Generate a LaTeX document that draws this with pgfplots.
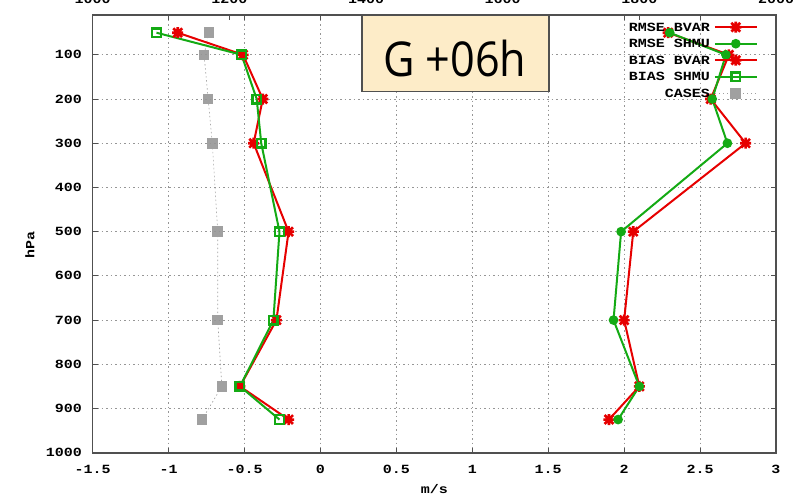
\documentclass[border=0pt]{standalone}
\usepackage{fontspec}
\usepackage{pgfplots}
\usepackage{pgfplotstable}
\pgfplotsset{compat=1.18}

\newfontfamily\gfont{Liberation Mono}[FakeStretch=1.2]
\newfontfamily\tfont{Open Sans}[FakeStretch=0.9]
\newcommand\gpfont{\gfont\bfseries\fontsize{12.5}{14}\selectfont}

\definecolor{gpred}{RGB}{230,0,0}
\definecolor{gpgreen}{RGB}{20,170,20}
\definecolor{gpgray}{RGB}{160,160,160}
\definecolor{gpframe}{RGB}{80,80,80}
\definecolor{gpgrid}{RGB}{150,150,150}
\definecolor{boxfill}{RGB}{253,236,200}

% gnuplot point type 3: a plus and a cross laid over each other
\pgfdeclareplotmark{gpstar}{%
  \pgfpathmoveto{\pgfqpoint{-\pgfplotmarksize}{0pt}}%
  \pgfpathlineto{\pgfqpoint{\pgfplotmarksize}{0pt}}%
  \pgfpathmoveto{\pgfqpoint{0pt}{-\pgfplotmarksize}}%
  \pgfpathlineto{\pgfqpoint{0pt}{\pgfplotmarksize}}%
  \pgfpathmoveto{\pgfqpoint{-0.8\pgfplotmarksize}{-0.8\pgfplotmarksize}}%
  \pgfpathlineto{\pgfqpoint{0.8\pgfplotmarksize}{0.8\pgfplotmarksize}}%
  \pgfpathmoveto{\pgfqpoint{-0.8\pgfplotmarksize}{0.8\pgfplotmarksize}}%
  \pgfpathlineto{\pgfqpoint{0.8\pgfplotmarksize}{-0.8\pgfplotmarksize}}%
  \pgfusepathqstroke}

% pressure level (hPa), RMSE and BIAS of wind speed (m/s), number of cases
\pgfplotstableread{
p    rmsebvar rmseshmu biasbvar biasshmu cases
50   2.29     2.30     -0.94    -1.08    1170
100  2.69     2.67     -0.51    -0.52    1163
200  2.57     2.58     -0.38    -0.42    1169
300  2.80     2.68     -0.44    -0.39    1175
500  2.06     1.98     -0.21    -0.27    1183
700  2.00     1.93     -0.29    -0.31    1183
850  2.10     2.10     -0.53    -0.53    1189
925  1.90     1.96     -0.21    -0.27    1160
}\levels

\pgfplotsset{
  gpbase/.style={
    scale only axis, width=683.3pt, height=437.7pt,
    at={(0,0)}, anchor=south west,
    ymin=10, ymax=1000, y dir=reverse,
    tick align=inside, major tick length=5pt,
    tick style={gpframe, line width=1pt},
    axis line style={gpframe, line width=1.6pt},
    /pgf/number format/assume math mode=true,
    /pgf/number format/1000 sep={},
    tick label style={font=\gpfont},
  },
  bvar/.style={gpred, line width=2pt, mark=gpstar, mark size=5.5pt, mark options={line width=2.6pt}},
  shmur/.style={gpgreen, line width=2pt, mark=*, mark size=3.8pt},
  shmub/.style={gpgreen, line width=2pt, mark=square, mark size=4.3pt, mark options={line width=2.4pt}},
  casesst/.style={gpgray, line width=0.6pt, dash pattern=on 1.5pt off 2.5pt,
    mark=square*, mark size=4.8pt, mark options={solid, fill=gpgray, draw=gpgray, line width=0pt}},
}

\begin{document}
\begin{tikzpicture}
% number of cases on the upper axis
\begin{axis}[gpbase,
  xmin=1000, xmax=2000,
  axis x line*=top, axis y line=none,
  xtick={1000,1200,...,2000},
  xticklabel style={inner sep=0pt, yshift=11pt},
  ytick=\empty,
]
\addplot[casesst] table[x=cases, y=p] {\levels};
\end{axis}

\begin{axis}[gpbase,
  xmin=-1.5, xmax=3,
  xtick={-1.5,-1,...,3},
  xticklabels={-1.5,-1,-0.5,0,0.5,1,1.5,2,2.5,3},
  ytick={100,200,...,1000},
  xtick pos=both, ytick pos=both,
  xticklabel pos=bottom, yticklabel pos=left,
  xticklabel style={inner sep=0pt, yshift=-12pt},
  yticklabel style={inner sep=0pt, xshift=-10.5pt},
  grid=major,
  major grid style={gpgrid, line width=0.8pt, dash pattern=on 1.5pt off 3pt},
  xlabel={m/s}, ylabel={hPa},
  label style={font=\gpfont},
  xlabel style={at={(axis description cs:0.5,-0.0731)}, anchor=north, inner sep=0pt},
  ylabel style={at={(axis description cs:-0.0918,0.4745)}, anchor=center, inner sep=0pt},
  legend cell align=right,
  legend plot pos=right,
  legend image code/.code={%
    \draw[mark repeat=2, mark phase=2] plot coordinates {(0pt,0pt) (21pt,0pt) (42pt,0pt)};},
  legend style={draw=none, fill=none, inner sep=0pt, font=\gpfont,
    at={(axis description cs:1,1)}, anchor=north east, xshift=-18pt, yshift=-3.75pt,
    row sep=0pt, column sep=0pt,
    nodes={inner xsep=4pt, inner ysep=0pt, text height=12.25pt, text depth=4.25pt}},
]
\addplot[bvar]  table[x=rmsebvar, y=p] {\levels};
\addlegendentry{RMSE BVAR}
\addplot[shmur] table[x=rmseshmu, y=p] {\levels};
\addlegendentry{RMSE SHMU}
\addplot[bvar]  table[x=biasbvar, y=p] {\levels};
\addlegendentry{BIAS BVAR}
\addplot[shmub] table[x=biasshmu, y=p] {\levels};
\addlegendentry{BIAS SHMU}
\addlegendimage{casesst}
\addlegendentry{CASES}

% forecast lead time box
\draw[gpframe, line width=1.3pt, fill=boxfill]
  (axis description cs:0.394,1) rectangle (axis description cs:0.668,0.826);
\node[inner sep=0pt] at (axis description cs:0.530,0.90)
  {\tfont\fontsize{48}{48}\selectfont G +06h};
\end{axis}

\pgfresetboundingbox
\useasboundingbox (-92.7pt,-46.3pt) rectangle (716.3pt,452.7pt);
\end{tikzpicture}
\end{document}
